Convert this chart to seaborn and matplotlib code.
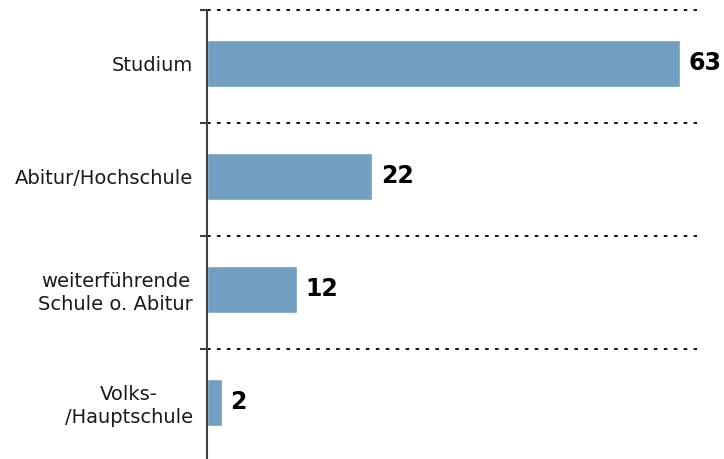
import matplotlib
matplotlib.use("Agg")
import matplotlib.pyplot as plt
import seaborn as sns
import pandas as pd
from matplotlib.ticker import FixedLocator

categories = ["Studium", "Abitur/Hochschule", "weiterführende\nSchule o. Abitur", "Volks-\n/Hauptschule"]
values = [63, 22, 12, 2]

df = pd.DataFrame({"cat": categories, "val": values})

sns.set_theme(style="white")
plt.rcParams["font.family"] = ["DejaVu Sans"]

fig = plt.figure(figsize=(7.24, 4.59), dpi=100)
ax = fig.add_axes([207/724, 0.0, (697-207)/724, 1 - 10/459])

sns.barplot(data=df, y="cat", x="val", orient="h", color="#729EC2",
            width=0.41, ax=ax, saturation=1)

shift = 0.027  # categories sit slightly above band centres
ax.set_xlim(0, 65.2)
ax.set_ylim(3.473 + shift, -0.5 + shift)
ax.set_xlabel("")
ax.set_ylabel("")
ax.set_xticks([])

for s in ["top", "right", "bottom"]:
    ax.spines[s].set_visible(False)
ax.spines["left"].set_color("#404040")
ax.spines["left"].set_linewidth(1.5)

ax.yaxis.set_minor_locator(FixedLocator([b + shift for b in [-0.5, 0.5, 1.5, 2.5]]))
ax.tick_params(axis="y", which="major", length=0, pad=10, labelsize=14, labelcolor="#1a1a1a")
ax.tick_params(axis="y", which="minor", length=5, width=1.5, color="#404040", left=True)
for lbl in ax.get_yticklabels():
    lbl.set_multialignment("center")
    lbl.set_linespacing(1.25)

ax.grid(False)
ax.yaxis.grid(True, which="minor", color="black", linestyle=(0, (2, 3.5)), linewidth=1.3)
for t in ax.yaxis.get_minor_ticks():
    t.gridline.set_clip_on(False)
    t.tick1line.set_clip_on(False)
ax.set_axisbelow(True)

for i, v in enumerate(values):
    ax.annotate(str(v), xy=(v, i), xytext=(6, 0), textcoords="offset points",
                ha="left", va="center", fontsize=17, fontweight="bold", color="black")

fig.savefig("out.png", dpi=100)
